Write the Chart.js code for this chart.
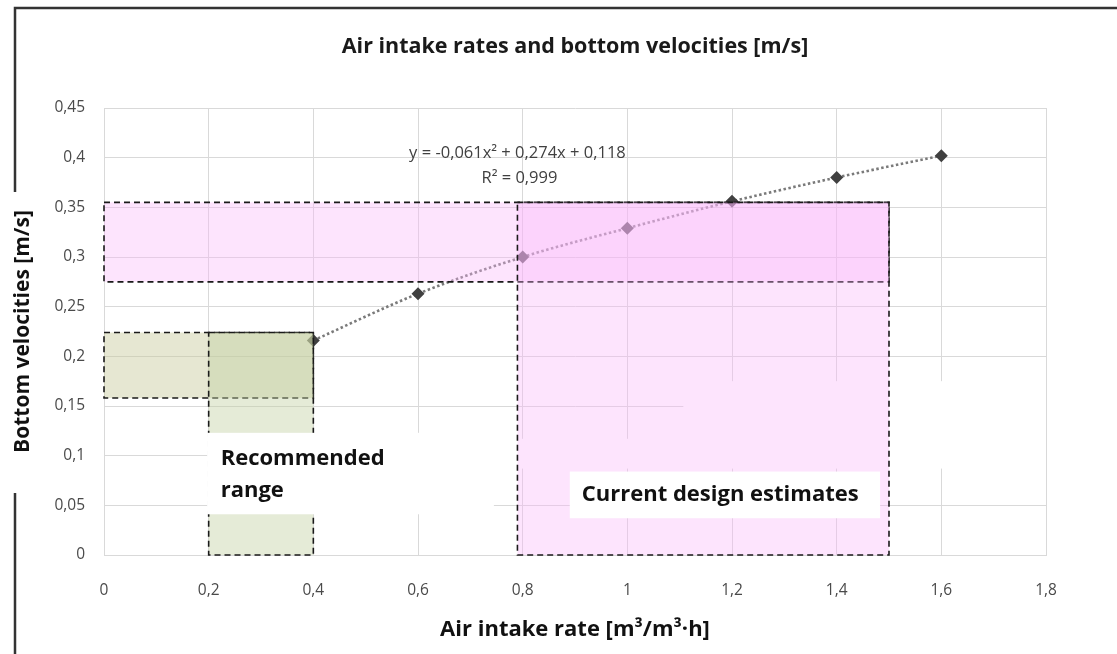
<!DOCTYPE html>
<html>
<head>
<meta charset="utf-8">
<title>Air intake rates and bottom velocities</title>
<script src="https://cdn.jsdelivr.net/npm/chart.js@4.4.1/dist/chart.umd.min.js"></script>
<style>
    html, body { margin: 0; padding: 0; background: #fff; }
    #wrap { width: 1117px; height: 654px; }
</style>
</head>
<body>
<div id="wrap"><canvas id="velocityChart" width="1117" height="654"></canvas></div>
<script>
// Measured points (air intake rate m3/m3.h -> bottom velocity m/s)
var airIntake = [0.4, 0.6, 0.8, 1.0, 1.2, 1.4, 1.6];
var bottomVelocity = [0.216, 0.263, 0.300, 0.329, 0.356, 0.380, 0.402];

// Axis ticks
var xTicks = [0, 0.2, 0.4, 0.6, 0.8, 1, 1.2, 1.4, 1.6, 1.8];
var yTicks = [0, 0.05, 0.1, 0.15, 0.2, 0.25, 0.3, 0.35, 0.4, 0.45];

// Shaded ranges as [xFrom, xTo, yFrom, yTo]
var recommendedRanges = [[0, 0.4, 0.158, 0.224], [0.2, 0.4, 0, 0.224]];
var designRanges = [[0, 1.5, 0.275, 0.355], [0.79, 1.5, 0, 0.355]];

// Texts
var chartTitle = "Air intake rates and bottom velocities [m/s]";
var xTitle = "Air intake rate [m\u00b3/m\u00b3\u00b7h]";
var yTitle = "Bottom velocities [m/s]";
var trendEquation = "y = -0,061x\u00b2 + 0,274x + 0,118";
var trendR2 = "R\u00b2 = 0,999";
var recommendedLabel = ["Recommended", "range"];
var designLabel = "Current design estimates";

var FONT = "'Open Sans', 'DejaVu Sans', sans-serif";

function commaNumber(v) {
    return String(Math.round(v * 100) / 100).replace(".", ",");
}

// data-space rectangle -> pixel rectangle
function boxPx(chart, b) {
    let sx = chart.scales.x, sy = chart.scales.y;
    let x1 = sx.getPixelForValue(b[0]), x2 = sx.getPixelForValue(b[1]);
    let y1 = sy.getPixelForValue(b[3]), y2 = sy.getPixelForValue(b[2]);
    return [x1, y1, x2 - x1, y2 - y1];
}

function drawBox(ctx, chart, b, fill, dashed) {
    let r = boxPx(chart, b);
    ctx.save();
    ctx.fillStyle = fill;
    ctx.fillRect(r[0], r[1], r[2], r[3]);
    if (dashed) {
        ctx.setLineDash([6, 4]);
        ctx.lineWidth = 1.6;
        ctx.strokeStyle = "#1a1a1a";
        ctx.strokeRect(r[0], r[1], r[2], r[3]);
    }
    ctx.restore();
}

// Page frame, white background
const framePlugin = {
    id: "frame",
    beforeDraw(chart) {
        let ctx = chart.ctx;
        ctx.save();
        ctx.fillStyle = "#fff";
        ctx.fillRect(0, 0, chart.width, chart.height);
        ctx.strokeStyle = "#333";
        ctx.lineWidth = 2.5;
        ctx.beginPath();
        ctx.moveTo(chart.width, 8);
        ctx.lineTo(15, 8);
        ctx.lineTo(15, 192);
        ctx.moveTo(15, 493);
        ctx.lineTo(15, chart.height);
        ctx.stroke();
        ctx.restore();
    }
};

// Shaded ranges and text boxes on top of the series
const rangesPlugin = {
    id: "ranges",
    afterDatasetsDraw(chart) {
        let ctx = chart.ctx;
        let sx = chart.scales.x, sy = chart.scales.y;

        // white text-box backgrounds that hide some grid lines
        drawBox(ctx, chart, [1.107, 1.8, 0.096, 0.175], "#fff", false);
        drawBox(ctx, chart, [0.74, 1.8, 0.087, 0.117], "#fff", false);

        drawBox(ctx, chart, recommendedRanges[0], "rgba(200, 202, 155, 0.45)", true);
        drawBox(ctx, chart, recommendedRanges[1], "rgba(192, 208, 160, 0.42)", true);

        // "Recommended range" box
        drawBox(ctx, chart, [0.197, 0.745, 0.041, 0.123], "#fff", false);
        ctx.save();
        ctx.fillStyle = "#111";
        ctx.font = "bold 22px " + FONT;
        ctx.textAlign = "left";
        ctx.textBaseline = "middle";
        let lx = sx.getPixelForValue(0.2) + 12;
        ctx.fillText(recommendedLabel[0], lx, sy.getPixelForValue(0.097));
        ctx.fillText(recommendedLabel[1], lx, sy.getPixelForValue(0.065));
        ctx.restore();

        designRanges.forEach(function(b) {
            drawBox(ctx, chart, b, "rgba(250, 180, 250, 0.36)", true);
        });

        // "Current design estimates" box
        let r = boxPx(chart, [0.89, 1.483, 0.037, 0.084]);
        ctx.save();
        ctx.fillStyle = "#fff";
        ctx.fillRect(r[0], r[1], r[2], r[3]);
        ctx.fillStyle = "#111";
        ctx.font = "bold 22px " + FONT;
        ctx.textAlign = "left";
        ctx.textBaseline = "middle";
        ctx.fillText(designLabel, r[0] + 12, r[1] + r[3] / 2);

        // trendline equation
        ctx.fillStyle = "#404040";
        ctx.font = "16.5px " + FONT;
        ctx.textAlign = "center";
        let ex = sx.getPixelForValue(0.79);
        ctx.fillText(trendEquation, ex, sy.getPixelForValue(0.4045));
        ctx.fillText(trendR2, ex + 2, sy.getPixelForValue(0.3795));
        ctx.restore();
    }
};

const points = airIntake.map(function(x, i) {
    return {x: x, y: bottomVelocity[i]};
});

new Chart(document.getElementById("velocityChart"), {
    type: "scatter",
    data: {
        datasets: [{
            label: "Bottom velocity",
            data: points,
            showLine: true,
            cubicInterpolationMode: "monotone",
            borderColor: "#7a7a7a",
            borderWidth: 2.6,
            borderDash: [2.5, 2.5],
            pointStyle: "rectRot",
            pointRadius: 6.5,
            pointBackgroundColor: "#404040",
            pointBorderColor: "#404040",
            pointBorderWidth: 0
        }]
    },
    options: {
        responsive: false,
        animation: false,
        layout: { padding: { left: 0, top: 0, right: 71, bottom: 0 } },
        plugins: {
            legend: { display: false },
            tooltip: { enabled: false },
            title: {
                display: true,
                fullSize: false,
                text: chartTitle,
                color: "#1a1a1a",
                font: { family: FONT, size: 21.5, weight: "bold" },
                padding: { top: 34, bottom: 48.2 }
            }
        },
        scales: {
            x: {
                type: "linear",
                min: 0,
                max: 1.8,
                afterBuildTicks: function(s) { s.ticks = xTicks.map(function(v) { return {value: v}; }); },
                afterFit: function(s) { s.height = 99; },
                ticks: {
                    callback: commaNumber,
                    color: "#4a4a4a",
                    font: { family: FONT, size: 15.5 },
                    padding: 26,
                    maxRotation: 0
                },
                grid: { color: "#d9d9d9", drawTicks: false },
                border: { color: "#d9d9d9" },
                title: {
                    display: true,
                    text: xTitle,
                    color: "#111",
                    font: { family: FONT, size: 22, weight: "bold" },
                    padding: { top: 0, bottom: 11 }
                }
            },
            y: {
                min: 0,
                max: 0.45,
                afterBuildTicks: function(s) { s.ticks = yTicks.map(function(v) { return {value: v}; }); },
                afterFit: function(s) { s.width = 104; },
                ticks: {
                    callback: commaNumber,
                    color: "#4a4a4a",
                    font: { family: FONT, size: 15.5 },
                    padding: 19
                },
                grid: { color: "#d9d9d9", drawTicks: false },
                border: { color: "#d9d9d9" },
                title: {
                    display: true,
                    text: yTitle,
                    color: "#111",
                    font: { family: FONT, size: 21, weight: "bold" },
                    padding: { top: 10, bottom: 0 }
                }
            }
        }
    },
    plugins: [framePlugin, rangesPlugin]
});
</script>
</body>
</html>
